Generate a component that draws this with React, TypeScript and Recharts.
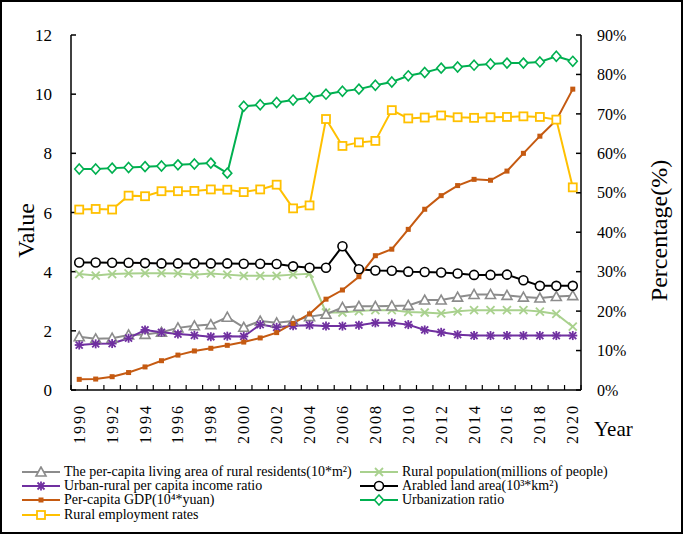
import React from 'react';
import { LineChart, Line, XAxis, YAxis } from 'recharts';

const FONT = '"Liberation Serif", "Times New Roman", serif';

const years = [
  1990, 1991, 1992, 1993, 1994, 1995, 1996, 1997, 1998, 1999, 2000,
  2001, 2002, 2003, 2004, 2005, 2006, 2007, 2008, 2009, 2010,
  2011, 2012, 2013, 2014, 2015, 2016, 2017, 2018, 2019, 2020,
];
const yearLabels = [1990, 1992, 1994, 1996, 1998, 2000, 2002, 2004, 2006, 2008, 2010, 2012, 2014, 2016, 2018, 2020];
const yearBounds = [
  1989.5, 1990.5, 1991.5, 1992.5, 1993.5, 1994.5, 1995.5, 1996.5, 1997.5, 1998.5, 1999.5,
  2000.5, 2001.5, 2002.5, 2003.5, 2004.5, 2005.5, 2006.5, 2007.5, 2008.5, 2009.5,
  2010.5, 2011.5, 2012.5, 2013.5, 2014.5, 2015.5, 2016.5, 2017.5, 2018.5, 2019.5, 2020.5,
];
const valueTicks = [0, 2, 4, 6, 8, 10, 12];
const percentTicks = [0, 10, 20, 30, 40, 50, 60, 70, 80, 90];

const livingArea = [1.8, 1.73, 1.75, 1.86, 1.88, 1.95, 2.1, 2.17, 2.21, 2.46, 2.12, 2.33, 2.27, 2.33, 2.48, 2.56, 2.79, 2.83, 2.83, 2.84, 2.86, 3.04, 3.04, 3.14, 3.23, 3.23, 3.2, 3.14, 3.11, 3.16, 3.19];
const incomeRatio = [1.52, 1.56, 1.57, 1.75, 2.03, 1.95, 1.89, 1.85, 1.8, 1.82, 1.81, 2.21, 2.12, 2.17, 2.19, 2.16, 2.16, 2.19, 2.27, 2.27, 2.21, 2.03, 1.95, 1.87, 1.84, 1.84, 1.84, 1.84, 1.84, 1.84, 1.84];
const gdp = [0.36, 0.37, 0.45, 0.59, 0.78, 0.99, 1.18, 1.32, 1.41, 1.51, 1.62, 1.76, 1.94, 2.25, 2.57, 3.07, 3.38, 3.83, 4.54, 4.76, 5.43, 6.11, 6.57, 6.91, 7.12, 7.09, 7.4, 8.0, 8.58, 9.12, 10.17];
const employment = [6.1, 6.12, 6.1, 6.57, 6.55, 6.72, 6.72, 6.73, 6.78, 6.77, 6.69, 6.78, 6.94, 6.14, 6.24, 9.16, 8.25, 8.37, 8.42, 9.46, 9.18, 9.21, 9.28, 9.22, 9.2, 9.22, 9.23, 9.25, 9.23, 9.14, 6.85];
const ruralPop = [3.92, 3.87, 3.92, 3.94, 3.95, 3.95, 3.94, 3.9, 3.94, 3.9, 3.86, 3.86, 3.86, 3.9, 3.93, 2.62, 2.62, 2.67, 2.7, 2.7, 2.64, 2.62, 2.59, 2.66, 2.7, 2.7, 2.7, 2.7, 2.65, 2.57, 2.14];
const arable = [4.31, 4.31, 4.3, 4.3, 4.29, 4.28, 4.28, 4.28, 4.28, 4.28, 4.27, 4.27, 4.26, 4.18, 4.13, 4.13, 4.86, 4.08, 4.04, 4.03, 4.0, 3.99, 3.97, 3.94, 3.89, 3.89, 3.9, 3.71, 3.52, 3.52, 3.52];
const urbanization = [7.47, 7.47, 7.5, 7.52, 7.55, 7.57, 7.61, 7.64, 7.67, 7.33, 9.59, 9.64, 9.72, 9.8, 9.88, 10.0, 10.1, 10.17, 10.3, 10.41, 10.62, 10.73, 10.88, 10.92, 10.98, 11.02, 11.05, 11.05, 11.09, 11.28, 11.11];

const data = years.map((year, i) => ({
  year,
  livingArea: livingArea[i],
  incomeRatio: incomeRatio[i],
  gdp: gdp[i],
  employment: employment[i],
  ruralPop: ruralPop[i],
  arable: arable[i],
  urbanization: urbanization[i],
}));

type MarkerKind = 'triangle' | 'star' | 'dot' | 'square' | 'cross' | 'circle' | 'diamond';

const Marker = ({ kind, cx, cy, color }: { kind: MarkerKind; cx: number; cy: number; color: string }) => {
  switch (kind) {
    case 'triangle':
      return <polygon points={`${cx},${cy - 5} ${cx - 5},${cy + 4} ${cx + 5},${cy + 4}`} fill="#fff" stroke={color} strokeWidth={1.6} />;
    case 'star':
      return (
        <g stroke={color} strokeWidth={1.8}>
          <line x1={cx - 4.5} y1={cy} x2={cx + 4.5} y2={cy} />
          <line x1={cx} y1={cy - 4.5} x2={cx} y2={cy + 4.5} />
          <line x1={cx - 3.5} y1={cy - 3.5} x2={cx + 3.5} y2={cy + 3.5} />
          <line x1={cx - 3.5} y1={cy + 3.5} x2={cx + 3.5} y2={cy - 3.5} />
        </g>
      );
    case 'dot':
      return <rect x={cx - 2.5} y={cy - 2.5} width={5} height={5} fill={color} />;
    case 'square':
      return <rect x={cx - 4} y={cy - 4} width={8} height={8} fill="#fff" stroke={color} strokeWidth={1.8} />;
    case 'cross':
      return (
        <g stroke={color} strokeWidth={1.8}>
          <line x1={cx - 4} y1={cy - 4} x2={cx + 4} y2={cy + 4} />
          <line x1={cx - 4} y1={cy + 4} x2={cx + 4} y2={cy - 4} />
        </g>
      );
    case 'circle':
      return <circle cx={cx} cy={cy} r={4.5} fill="#fff" stroke={color} strokeWidth={1.6} />;
    case 'diamond':
      return <polygon points={`${cx},${cy - 5} ${cx + 4.5},${cy} ${cx},${cy + 5} ${cx - 4.5},${cy}`} fill="#fff" stroke={color} strokeWidth={1.6} />;
  }
  return null;
};

const series: { key: string; name: string; color: string; kind: MarkerKind }[] = [
  { key: 'ruralPop', name: 'Rural population(millions of people)', color: '#a9d18e', kind: 'cross' },
  { key: 'livingArea', name: 'The per-capita living area of rural residents(10*m²)', color: '#8c8c8c', kind: 'triangle' },
  { key: 'incomeRatio', name: 'Urban-rural per capita income ratio', color: '#7030a0', kind: 'star' },
  { key: 'arable', name: 'Arabled land area(10³*km²)', color: '#000000', kind: 'circle' },
  { key: 'gdp', name: 'Per-capita GDP(10⁴*yuan)', color: '#c55a11', kind: 'dot' },
  { key: 'employment', name: 'Rural employment rates', color: '#ffc000', kind: 'square' },
  { key: 'urbanization', name: 'Urbanization ratio', color: '#00b050', kind: 'diamond' },
];

const legendLeft = ['livingArea', 'incomeRatio', 'gdp', 'employment'];
const legendRight = ['ruralPop', 'arable', 'urbanization'];

const YearTick = (props: any) => {
  const { x, y, payload } = props;
  return (
    <text
      x={x + 5.5}
      y={y}
      transform={`rotate(-90, ${x + 5.5}, ${y})`}
      textAnchor="end"
      fontFamily={FONT}
      fontSize={16}
      letterSpacing={2}
      fill="#000"
    >
      {payload.value}
    </text>
  );
};

// empty label: only the inward tick marks between the years stay
const NoLabel = (props: any) => <g key={`b-${props.index}`} />;

const LegendItem = ({ s }: { s: (typeof series)[number] }) => (
  <div style={{ display: 'flex', alignItems: 'center', height: 14.2 }}>
    <svg width={40} height={12} style={{ marginRight: 3 }}>
      <line x1={1} y1={6} x2={39} y2={6} stroke={s.color} strokeWidth={2} />
      <Marker kind={s.kind} cx={20} cy={6} color={s.color} />
    </svg>
    <span>{s.name}</span>
  </div>
);

export default function App() {
  const axisStyle = { fontFamily: FONT, fontSize: 17, fill: '#000' };
  return (
    <div style={{ position: 'absolute', left: 0, top: 0, width: 685, height: 535, background: '#fff', fontFamily: FONT }}>
      <LineChart width={685} height={535} data={data} margin={{ top: 35, right: 0, bottom: 85, left: 0 }}>
        <XAxis
          xAxisId="grid"
          dataKey="year"
          type="number"
          domain={[1989.5, 2020.5]}
          ticks={yearBounds}
          interval={0}
          allowDataOverflow
          height={1}
          tick={NoLabel}
          tickSize={-5}
          tickMargin={0}
          axisLine={{ stroke: '#000', strokeWidth: 1.5 }}
          tickLine={{ stroke: '#000', strokeWidth: 1.2 }}
        />
        <XAxis
          xAxisId="labels"
          dataKey="year"
          type="number"
          domain={[1989.5, 2020.5]}
          ticks={yearLabels}
          interval={0}
          allowDataOverflow
          height={59}
          axisLine={false}
          tickLine={false}
          tickSize={0}
          tickMargin={13}
          tick={<YearTick />}
          label={{ value: 'Year', position: 'right', offset: 13, dy: 8, style: { fontFamily: FONT, fontSize: 21, fill: '#000' } }}
        />
        <YAxis
          yAxisId="left"
          domain={[0, 12]}
          ticks={valueTicks}
          interval={0}
          allowDataOverflow
          width={71}
          tickSize={-5}
          tickMargin={24}
          tick={axisStyle}
          axisLine={{ stroke: '#000', strokeWidth: 1.5 }}
          tickLine={{ stroke: '#000', strokeWidth: 1.5 }}
          label={{ value: 'Value', angle: -90, position: 'center', dx: -10, dy: 18, style: { fontFamily: FONT, fontSize: 24, fill: '#000' } }}
        />
        <YAxis
          yAxisId="right"
          orientation="right"
          domain={[0, 90]}
          ticks={percentTicks}
          interval={0}
          allowDataOverflow
          width={104}
          tickSize={-5}
          tickMargin={21}
          tickFormatter={(v: number) => `${v}%`}
          tick={{ ...axisStyle, fontSize: 16, textAnchor: 'start' }}
          axisLine={{ stroke: '#000', strokeWidth: 1.5 }}
          tickLine={{ stroke: '#000', strokeWidth: 1.5 }}
          label={{ value: 'Percentage(%)', angle: -90, position: 'center', dx: 25, dy: 18, style: { fontFamily: FONT, fontSize: 24, fill: '#000' } }}
        />
        {series.map((s) => (
          <Line
            key={s.key}
            xAxisId="grid"
            yAxisId="left"
            dataKey={s.key}
            name={s.name}
            stroke={s.color}
            strokeWidth={2}
            isAnimationActive={false}
            dot={(p: any) => <Marker key={`${s.key}-${p.index}`} kind={s.kind} cx={p.cx} cy={p.cy} color={s.color} />}
            activeDot={false}
          />
        ))}
      </LineChart>
      <div style={{ position: 'absolute', left: 21, top: 465, fontSize: 14, lineHeight: '14px' }}>
        {legendLeft.map((k) => (
          <LegendItem key={k} s={series.find((s) => s.key === k)!} />
        ))}
      </div>
      <div style={{ position: 'absolute', left: 359, top: 465, fontSize: 14, lineHeight: '14px' }}>
        {legendRight.map((k) => (
          <LegendItem key={k} s={series.find((s) => s.key === k)!} />
        ))}
      </div>
      <div
        style={{
          position: 'absolute',
          left: 0,
          top: 0,
          width: 683,
          height: 534,
          border: '2px solid #000',
          boxSizing: 'border-box',
          pointerEvents: 'none',
        }}
      />
    </div>
  );
}
